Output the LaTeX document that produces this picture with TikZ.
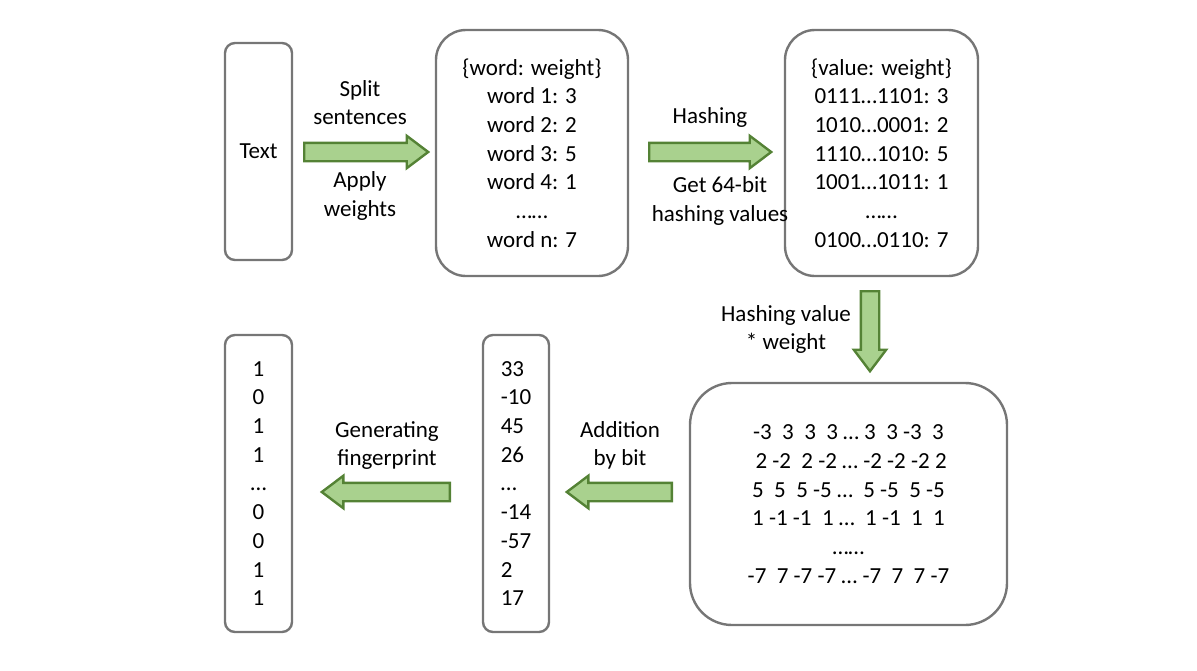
\documentclass[tikz,border=0pt]{standalone}
\usepackage{fontspec}
\setmainfont{Carlito}
\usetikzlibrary{shapes.arrows}
\definecolor{boxgray}{RGB}{118,118,118}
\definecolor{arrowfill}{RGB}{169,209,142}
\definecolor{arrowline}{RGB}{84,130,53}
\tikzstyle{txt}=[font=\fontsize{23}{28.7}\selectfont,inner sep=0pt,align=center]
\tikzstyle{box}=[txt,rectangle,draw=boxgray,line width=2.4pt]
\tikzstyle{blockarrow}=[single arrow,draw=arrowline,fill=arrowfill,line width=2.4pt,minimum width=30pt,single arrow head extend=7pt,single arrow tip angle=74,inner sep=8pt,anchor=tail]

\begin{document}
\begin{tikzpicture}[x=1pt,y=-1pt]
    \useasboundingbox (0,0) rectangle (1197,670);
    % Boxes of the pipeline
    \node[box,rounded corners=10pt,minimum width=67pt,minimum height=217pt] (text) at (258.5,151.5) {Text};
    \node[box,rounded corners=30pt,minimum width=192pt,minimum height=246pt] (words) at (532,153)
        {\{word: weight\}\\word 1: 3\\word 2: 2\\word 3: 5\\word 4: 1\\……\\word n: 7};
    \node[box,rounded corners=30pt,minimum width=193pt,minimum height=246pt] (values) at (881.5,153)
        {\{value: weight\}\\0111…1101: 3\\1010…0001: 2\\1110…1010: 5\\1001…1011: 1\\……\\0100…0110: 7};
    \node[box,rounded corners=42pt,minimum width=317pt,minimum height=242pt] (matrix) at (848.5,504)
        {-3\ \ 3\ \ 3\ \ 3 … 3\ \ 3 -3\ \ 3\\
         \ 2 -2\ \ 2 -2 … -2 -2 -2 2\\
         5\ \ 5\ \ 5 -5 …\ \ 5 -5\ \ 5 -5\\
         1 -1 -1\ \ 1 …\ \ 1 -1\ \ 1\ \ 1\\
         ……\\
         -7\ \ 7 -7 -7 … -7\ \ 7\ \ 7 -7};
    \node[box,align=left,rounded corners=10pt,minimum width=66pt,minimum height=297pt] (sums) at (516,483.5)
        {33\\-10\\45\\26\\…\\-14\\-57\\2\\17};
    \node[box,rounded corners=10pt,minimum width=67pt,minimum height=297pt] (finger) at (258.5,483.5)
        {1\\0\\1\\1\\…\\0\\0\\1\\1};

    % Block arrows between the boxes (placed by their tails)
    \foreach \pos/\name/\len/\dir in {{(303,152)/split/124/0}, {(648,152)/hash/122/0}, {(870,290)/mult/80/270}, {(673,492)/add/105/180}, {(451,492)/gen/128/180}}
        \node[blockarrow,minimum height=\len,shape border rotate=\dir] (\name) at \pos {};

    % Labels of the steps
    \foreach \pos/\name/\label in {{(360,102.5)/l_split/{Split\\sentences}}, {(360,196)/l_apply/{Apply\\weights}}, {(710,117)/l_hash/{Hashing}}, {(720,201)/l_get/{Get 64-bit\\hashing values}}, {(786,329.5)/l_mult/{Hashing value\\* weight}}, {(620,445.5)/l_add/{Addition\\by bit}}, {(387,445.5)/l_gen/{Generating\\fingerprint}}}
        \node[txt] (\name) at \pos {\label};
\end{tikzpicture}
\end{document}
